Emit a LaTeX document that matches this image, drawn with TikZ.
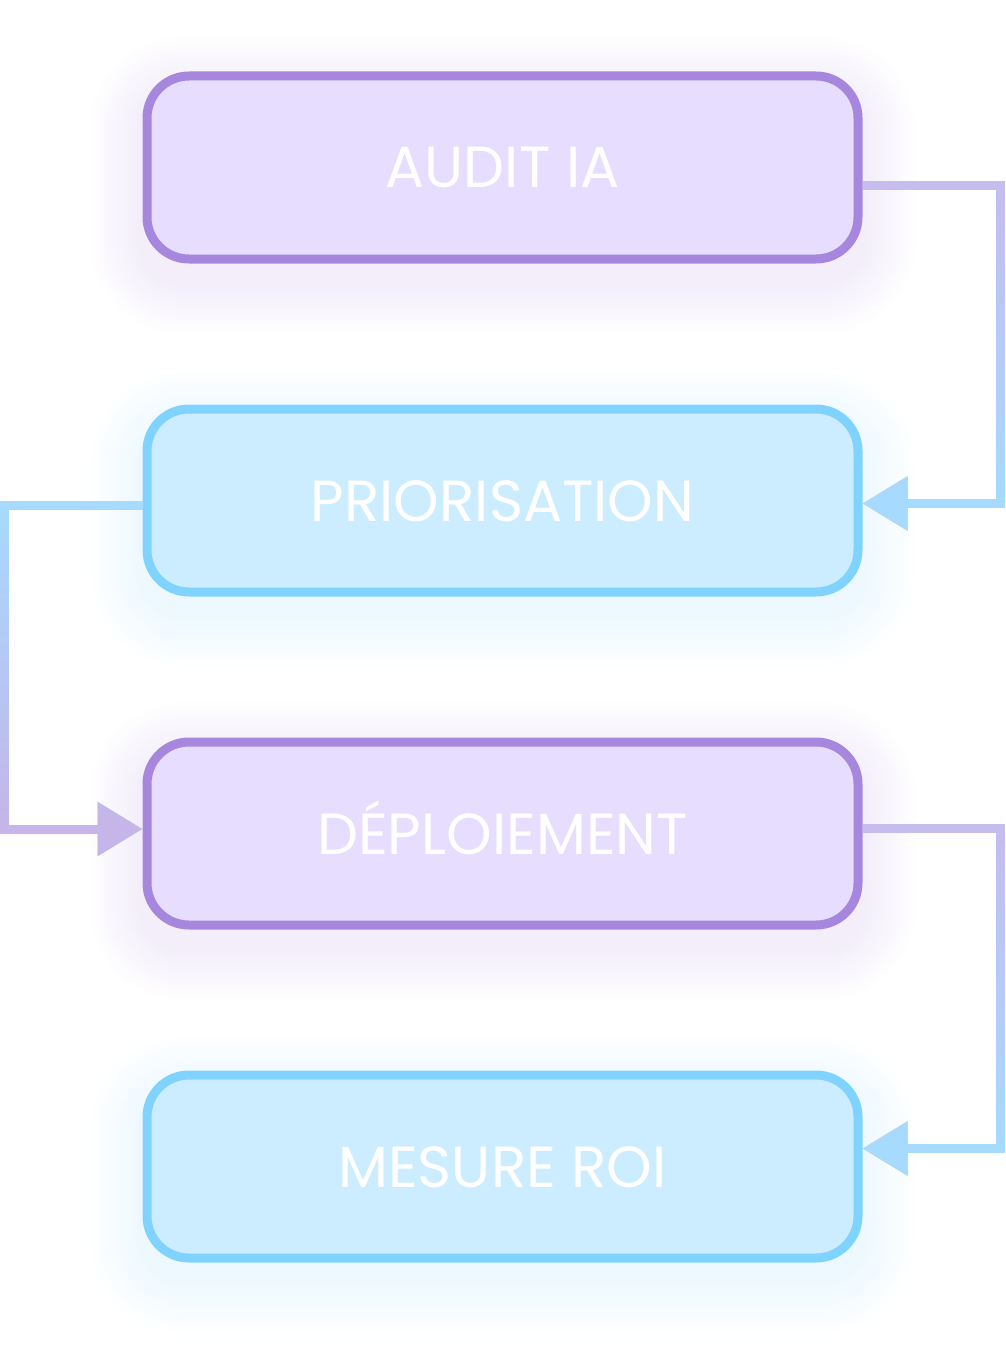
\documentclass[tikz,border=0pt]{standalone}
\usepackage{fontspec}
\setmainfont{Poppins}
\usetikzlibrary{arrows.meta,positioning,backgrounds,fadings}
\definecolor{lilacfill}{HTML}{E6DDFF}
\definecolor{lilacline}{HTML}{A787DD}
\definecolor{skyfill}{HTML}{CCEDFF}
\definecolor{skyline}{HTML}{80D3FF}
\definecolor{linklilac}{HTML}{C6BDEE}
\definecolor{linksky}{HTML}{A6DBFF}
\definecolor{linkmauve}{HTML}{C6B5E8}
\begin{document}
\begin{tikzpicture}[x=1pt,y=-1pt,node distance=141pt,
  box/.style={draw,line width=9pt,rounded corners=42pt,minimum width=711pt,minimum height=183pt,
    text=white,font=\fontsize{58}{60}\selectfont,text height=41pt,text depth=0pt},
  lilac/.style={box,fill=lilacfill,draw=lilacline},
  sky/.style={box,fill=skyfill,draw=skyline},
  link/.style={line width=9pt,-{Triangle[length=45pt,width=52pt]}},
  fade/.style={path fading=north}]
\useasboundingbox (0,0) rectangle (1005,1359);
\node[lilac] (audit) at (502.5,167.5) {AUDIT IA};
\node[sky,below=of audit] (prio) {PRIORISATION};
\node[lilac,below=of prio] (deploy) {DÉPLOIEMENT};
\node[sky,below=of deploy] (roi) {MESURE ROI};
\begin{pgfonlayer}{background}
\foreach \n/\c in {audit/lilacline,prio/skyline,deploy/lilacline,roi/skyline}
  \foreach \r in {3,6,...,54}
    \fill[\c,fill opacity=0.009,rounded corners={(42+\r)*1pt}]
      ([shift={(-\r,-\r+18)}]\n.north west) rectangle ([shift={(\r,\r+18)}]\n.south east);
\end{pgfonlayer}
\draw[link,linklilac] ([yshift=-18.5pt]audit.east) -- ++(137.5,0) |- ([yshift=-3pt]prio.east);
\draw[link,linksky,fade] ([yshift=-18.5pt]audit.east) -- ++(137.5,0) |- ([yshift=-3pt]prio.east);
\draw[link,linksky] ([yshift=-5pt]prio.west) -- ++(-138,0) |- ([yshift=4.5pt]deploy.west);
\draw[link,linkmauve,fade] ([yshift=-5pt]prio.west) -- ++(-138,0) |- ([yshift=4.5pt]deploy.west);
\draw[link,linklilac] ([yshift=5pt]deploy.east) -- ++(137.5,0) |- ([yshift=18pt]roi.east);
\draw[link,linksky,fade] ([yshift=5pt]deploy.east) -- ++(137.5,0) |- ([yshift=18pt]roi.east);
\end{tikzpicture}
\end{document}
